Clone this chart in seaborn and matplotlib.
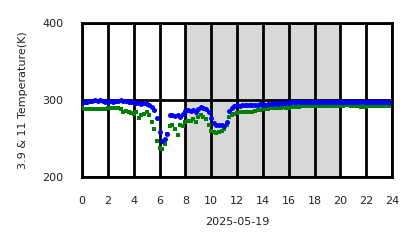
import numpy as np
import pandas as pd
import matplotlib
matplotlib.use("Agg")
import matplotlib.pyplot as plt
import seaborn as sns

hours = [round(0.2 * i, 1) for i in range(120)]

temp_39 = [296, 297, 298, 299, 299, 300, 299, 300, 299, 298,
           298, 299, 298, 299, 299, 300, 299, 299, 298, 298,
           297, 296, 296, 295, 296, 295, 293, 291, 287, 276,
           258, 247, 250, 256, 281, 280, 279, 280, 278, 282,
           286, 287, 286, 287, 285, 288, 291, 290, 288, 284,
           276, 270, 267, 268, 268, 266, 272, 286, 290, 292,
           293, 292, 293, 293, 294, 294, 293, 294, 294, 295,
           294, 294, 295, 295, 295, 296, 295, 296, 296, 296,
           296, 297, 297, 297, 297, 297, 297, 297, 297, 297,
           297, 297, 297, 297, 297, 297, 297, 297, 297, 297,
           297, 297, 297, 297, 297, 297, 297, 297, 297, 297,
           297, 297, 297, 297, 297, 297, 297, 297, 297, 297]

temp_11 = [290, 288, 288, 288, 288, 288, 288, 288, 288, 288,
           289, 289, 289, 289, 289, 288, 285, 286, 284, 283,
           282, 284, 277, 281, 282, 285, 280, 272, 262, 247,
           238, 236, 243, 256, 266, 268, 262, 255, 268, 266,
           272, 273, 273, 275, 271, 278, 281, 278, 275, 268,
           260, 258, 257, 258, 260, 262, 268, 278, 280, 282,
           283, 284, 284, 285, 285, 285, 285, 286, 287, 287,
           288, 288, 288, 289, 289, 290, 290, 290, 291, 290,
           290, 291, 291, 291, 291, 292, 292, 292, 292, 292,
           292, 292, 292, 292, 292, 292, 292, 292, 292, 292,
           292, 292, 293, 293, 292, 292, 292, 292, 291, 291,
           291, 292, 292, 292, 292, 292, 292, 292, 292, 292]

x_ticks = list(range(0, 25, 2))
y_ticks = [200, 300, 400]
night_start, night_end = 8, 20

df39 = pd.DataFrame({"hour": hours, "temp": temp_39})
df11 = pd.DataFrame({"hour": hours, "temp": temp_11})

sns.set_style("white")
plt.rcParams['font.family'] = ['DejaVu Sans']

fig = plt.figure(figsize=(4.18, 2.48), dpi=100)
ax = fig.add_axes([82/418, 71/248, 310/418, 154/248])

ax.axvspan(night_start, night_end, color="#d8d8d8", zorder=0, lw=0)

sns.scatterplot(data=df11, x="hour", y="temp", ax=ax, color="green",
                marker="s", s=11, linewidth=0, zorder=3)
sns.scatterplot(data=df39, x="hour", y="temp", ax=ax, color="blue",
                marker="o", s=13, linewidth=0, zorder=4)

ax.set_xlim(0, 24)
ax.set_ylim(200, 400)
ax.set_xticks(x_ticks)
ax.set_yticks(y_ticks)
ax.grid(True, color="black", linewidth=2.0, zorder=2)
ax.set_axisbelow(False)
for s in ax.spines.values():
    s.set_color("black")
    s.set_linewidth(2.0)
ax.tick_params(axis="both", direction="out", length=7.5, width=2.0,
               color="black", labelsize=8, labelcolor="#222222", pad=6)
ax.set_xlabel("2025-05-19", fontsize=8, color="#222222", labelpad=8)
ax.set_ylabel("3.9 & 11 Temperature(K)", fontsize=8, color="#222222", labelpad=10)

fig.savefig("out.png", dpi=100)
